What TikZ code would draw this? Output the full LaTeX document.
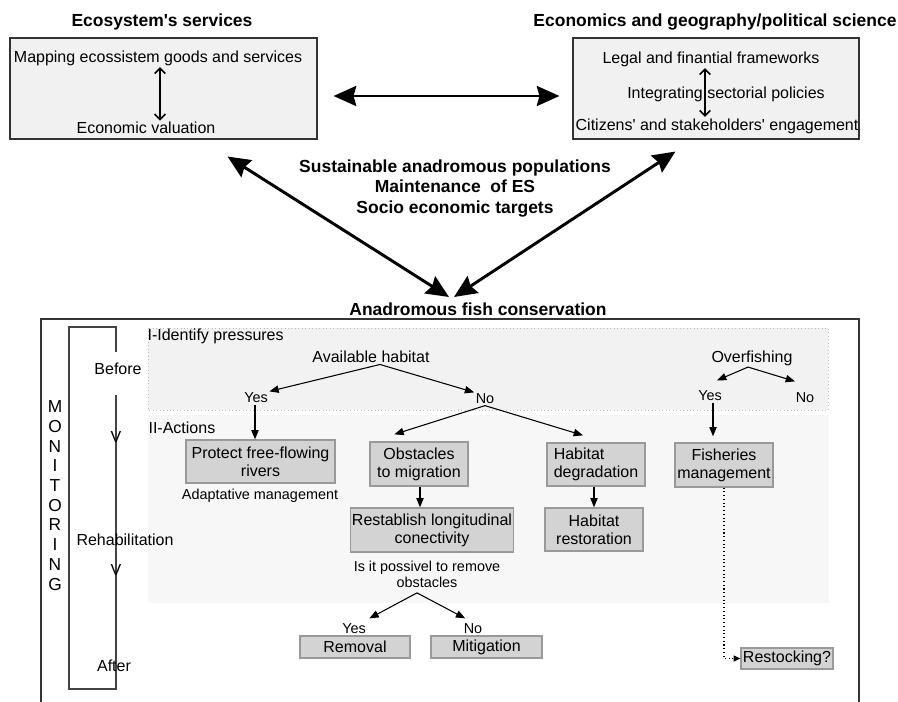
\documentclass[tikz,border=0pt]{standalone}
\usepackage{fontspec}
\setmainfont{Liberation Sans}
\usetikzlibrary{arrows.meta,calc}
\definecolor{topbg}{HTML}{F0F1F0}
\definecolor{topedge}{HTML}{333333}
\definecolor{actbg}{HTML}{D3D3D3}
\definecolor{actedge}{HTML}{999999}
\definecolor{regI}{HTML}{F1F2F1}
\definecolor{regII}{HTML}{F7F7F7}
\definecolor{regedge}{HTML}{BBBBBB}
\definecolor{timeln}{HTML}{444444}
\begin{document}
\begin{tikzpicture}[x=0.75pt,y=-0.75pt,
  sz/.style 2 args={minimum width={#1*0.75pt},minimum height={#2*0.75pt}},
  txt/.style={font=\fontsize{12}{13.7}\selectfont, inner sep=1pt},
  sml/.style={font=\fontsize{10.8}{12}\selectfont, inner sep=1pt},
  ttl/.style={font=\bfseries\fontsize{13.1}{15.4}\selectfont, inner sep=0pt},
  topbox/.style={draw=topedge, fill=topbg, line width=0.8pt, inner sep=0pt},
  abox/.style={draw=actedge, fill=actbg, line width=1pt, inner sep=1pt, align=center,
    font=\fontsize{12}{13.7}\selectfont},
  bigarr/.style={line width=2.2pt, {Stealth[length=17pt,width=15pt,inset=2pt]}-{Stealth[length=17pt,width=15pt,inset=2pt]}},
  inarr/.style={line width=1.2pt, {Straight Barb[length=4pt,width=8pt]}-{Straight Barb[length=4pt,width=8pt]}},
  arr/.style={line width=0.8pt, -{Triangle[length=7pt,width=5.5pt]}},
  darr/.style={line width=0.8pt, dotted, -{Triangle[length=5pt,width=4.5pt]}},
]
\useasboundingbox (0,0) rectangle (898,702);

% ---------- top boxes ----------
\node[topbox, sz={307}{101}] (lbox) at (163.5,88.5) {};
\node[topbox, sz={286}{101}] (rbox) at (716,88.5) {};
\node[ttl] (lttl) at (162,22) {Ecosystem\textquotesingle s services};
\node[ttl] (rttl) at (715,22) {Economics and geography/political science};

\node[txt] (map) at (158,58) {Mapping ecossistem goods and services};
\node[txt] (econ) at (146,128) {Economic valuation};
\draw[inarr] ([xshift=1.5pt]map.south) -- ([xshift=1.5pt]map.south |- econ.north);

\node[txt] (legal) at (711,59) {Legal and finantial frameworks};
\node[txt] (integ) at (726,94) {Integrating sectorial policies};
\node[txt] (cit) at (717,126) {Citizens\textquotesingle\ and stakeholders\textquotesingle\ engagement};
\draw[inarr] ([xshift=-4.5pt]legal.south) -- ([xshift=-4.5pt]legal.south |- cit.north);

% ---------- centre ----------
\node[ttl, align=center] (goals) at (455,188.5) {Sustainable anadromous populations\\Maintenance~ of ES\\Socio economic targets};
\node[ttl] (cons) at (478,309) {Anadromous fish conservation};

\draw[bigarr] ($(lbox.east)+(16,7.5)$) -- ($(rbox.west)+(-13,7.5)$);
\draw[bigarr] ($(lbox.south east)+(-90,17)$) -- ($(cons.center)+(-29,-12)$);
\draw[bigarr] ($(rbox.south west)+(103,12)$) -- ($(cons.center)+(-24,-12)$);

% ---------- lower frame & regions ----------
\draw[line width=1pt, topedge] (41,702) -- (41,319) -- (859,319) -- (859,702);
\fill[regI] (148,328) rectangle (828,410);
\draw[regedge, dotted, line width=0.6pt] (148,328) rectangle (828,410);
\fill[regII] (148,415) rectangle (829,603);

\node[txt, anchor=west] (idp) at (146,336) {I-Identify pressures};
\node[txt, anchor=west] (act) at (147,428) {II-Actions};

% ---------- monitoring bracket ----------
\node[align=center, inner sep=0pt, font=\fontsize{13}{14.8}\selectfont] (mon) at (55,495.5)
  {M\\O\\N\\I\\T\\O\\R\\I\\N\\G};
\draw[timeln, line width=0.9pt] (116,352) -- (116,327) -- (69,327) -- (69,689) -- (116,689) -- (116,395);
\node[txt] (before) at (118,369) {Before};
\node[txt] (rehab) at (125,540) {Rehabilitation};
\node[txt] (after) at (114,666) {After};
\node[txt] (v1) at (116,437) {V};
\node[txt] (v2) at (116,570) {V};

% ---------- available habitat branch ----------
\node[txt] (avail) at (371,357) {Available habitat};
\node[sml] (yes1) at (256,398) {Yes};
\node[sml] (no1) at (485,399) {No};
\draw[arr] ([xshift=6.75pt]avail.south) -- (yes1.north east);
\draw[arr] ([xshift=6.75pt]avail.south) -- (no1.north west);

\node[abox, sz={149}{43}] (protect) at (260.5,461.5) {Protect free-flowing\\rivers};
\node[sml] (adapt) at (260,496) {Adaptative management};
\draw[arr] ([xshift=-0.75pt]yes1.south) -- ([xshift=-0.75pt]yes1.south |- protect.north);

\node[abox, sz={98}{44}] (obst) at (419,464) {Obstacles\\to migration};
\node[abox, sz={98}{43}, align=left] (hdeg) at (596,464.5) {Habitat\\degradation};
\draw[arr] (no1.south) -- ($(obst.north west)+(25,-7)$);
\draw[arr] (no1.south) -- ($(hdeg.north)+(-13,-7)$);

\node[abox, sz={162}{44}] (rest) at (432,530) {Restablish longitudinal\\conectivity};
\node[abox, sz={98}{43}] (hres) at (594,529.5) {Habitat\\restoration};
\draw[arr] ([xshift=0.75pt]obst.south) -- ([xshift=0.75pt]obst.south |- rest.north);
\draw[arr] (hres.north |- hdeg.south) -- (hres.north);

\node[sml, align=center] (q) at (427,574) {Is it possivel to remove\\obstacles};
\node[sml] (yes2) at (354,629) {Yes};
\node[sml] (no2) at (473,629) {No};
\draw[arr] ($(q.south)+(-10,4)$) -- ($(yes2.north east)+(2,-4)$);
\draw[arr] ($(q.south)+(-10,4)$) -- ($(no2.north west)+(3,-4)$);
\node[abox, sz={110}{22}, inner sep=0pt] (removal) at (355,647) {Removal};
\node[abox, sz={111}{22}, inner sep=0pt] (mitig) at (486.5,647) {Mitigation};

% ---------- overfishing branch ----------
\node[txt] (over) at (752,358) {Overfishing};
\node[sml] (yes3) at (710,396) {Yes};
\node[sml] (no3) at (805,398) {No};
\draw[arr] ([xshift=-3pt]over.south) -- ($(yes3.north)+(7,-9)$);
\draw[arr] ([xshift=-3pt]over.south) -- ($(no3.north)+(-10,-10)$);
\node[abox, sz={98}{44}] (fish) at (724,465) {Fisheries\\management};
\draw[arr] ([xshift=2.25pt]yes3.south) -- ([xshift=2.25pt,yshift=4.5pt]yes3.south |- fish.north);
\node[abox, sz={92}{21}, inner sep=0pt] (restock) at (787,658.5) {Restocking?};
\draw[darr] (fish.south) |- (restock.west);

\end{tikzpicture}
\end{document}
